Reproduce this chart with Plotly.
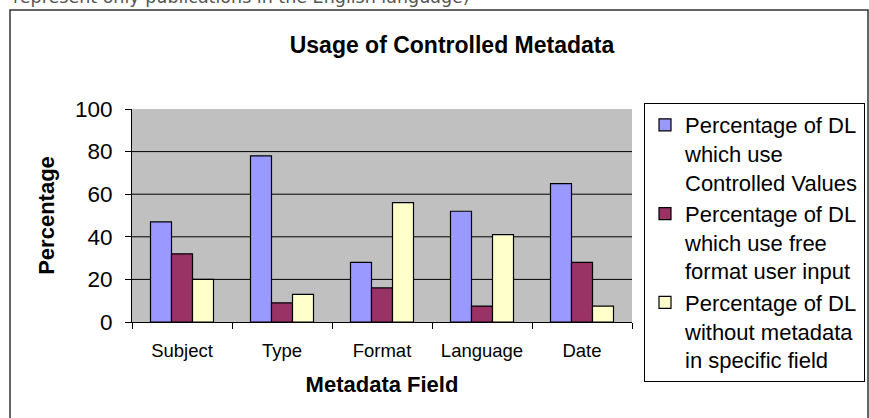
import plotly.graph_objects as go

categories = ["Subject", "Type", "Format", "Language", "Date"]
controlled = [47, 78, 28, 52, 65]
free_format = [32, 9, 16, 7.5, 28]
no_metadata = [20, 13, 56, 41, 7.5]
series_names = [
    "Percentage of DL<br>which use<br>Controlled Values",
    "Percentage of DL<br>which use free<br>format user input",
    "Percentage of DL<br>without metadata<br>in specific field",
]
series_colors = ["#9999FF", "#993366", "#FFFFCC"]
y_ticks = [0, 20, 40, 60, 80, 100]
grid_values = [20, 40, 60, 80]

FONT = "Arial, Liberation Sans, sans-serif"

fig = go.Figure()
for i, (name, vals, col) in enumerate(zip(series_names, [controlled, free_format, no_metadata], series_colors)):
    fig.add_trace(go.Bar(
        x=categories, y=vals, name=name, legendgroup=f"g{i}",
        marker=dict(color=col, line=dict(color="black", width=1.2)),
    ))

for v in grid_values:
    fig.add_shape(type="line", xref="paper", yref="y", x0=0, x1=1, y0=v, y1=v,
                  line=dict(color="black", width=1), layer="below")

W, H = 869, 418
L, R, T, B = 132, 237, 109, 96
def px(x):
    return (x - L) / (W - L - R)
def py(y):
    return (H - B - y) / (H - T - B)

# outer chart frame
fig.add_shape(type="rect", xref="paper", yref="paper",
              x0=px(10), x1=px(868), y0=py(10), y1=py(430),
              line=dict(color="#333333", width=1.5), layer="below")

fig.add_annotation(text="represent only publications in the English language)",
                   xref="paper", yref="paper", x=px(11), y=py(-3), xanchor="left", yanchor="middle",
                   showarrow=False, font=dict(family="DejaVu Sans", size=17.5, color="#555555"))

fig.update_layout(
    width=W, height=H,
    margin=dict(l=L, r=R, t=T, b=B, autoexpand=False),
    paper_bgcolor="white",
    plot_bgcolor="#C0C0C0",
    barmode="group", bargap=0.37, bargroupgap=0,
    font=dict(family=FONT, color="black"),
    title=dict(text="<b>Usage of Controlled Metadata</b>", xref="container", x=452 / W,
               xanchor="center", y=1 - 45 / H, yanchor="middle", font=dict(size=23, family=FONT)),
    showlegend=True,
    legend=dict(x=px(644), y=py(103), xanchor="left", yanchor="top",
                bgcolor="white", bordercolor="black", borderwidth=1,
                font=dict(size=22, family=FONT), traceorder="grouped",
                tracegroupgap=0, itemwidth=30, valign="top", maxheight=400),
    xaxis=dict(showline=True, linecolor="black", linewidth=1, ticks="outside",
               tickson="boundaries", ticklen=6, tickcolor="black",
               tickfont=dict(size=18.5), ticklabelstandoff=12,
               title=dict(text="<b>Metadata Field</b>", font=dict(size=22), standoff=16)),
    yaxis=dict(range=[0, 100], tickvals=y_ticks, showgrid=False, zeroline=False,
               showline=True, linecolor="black", linewidth=1, ticks="outside",
               ticklen=6, tickcolor="black", tickfont=dict(size=22.5), ticklabelstandoff=8,
               title=dict(text="<b>Percentage</b>", font=dict(size=22), standoff=14)),
)

fig.write_html("out.html", config={"displayModeBar": False},
               post_script="document.body.style.margin='0px';")
